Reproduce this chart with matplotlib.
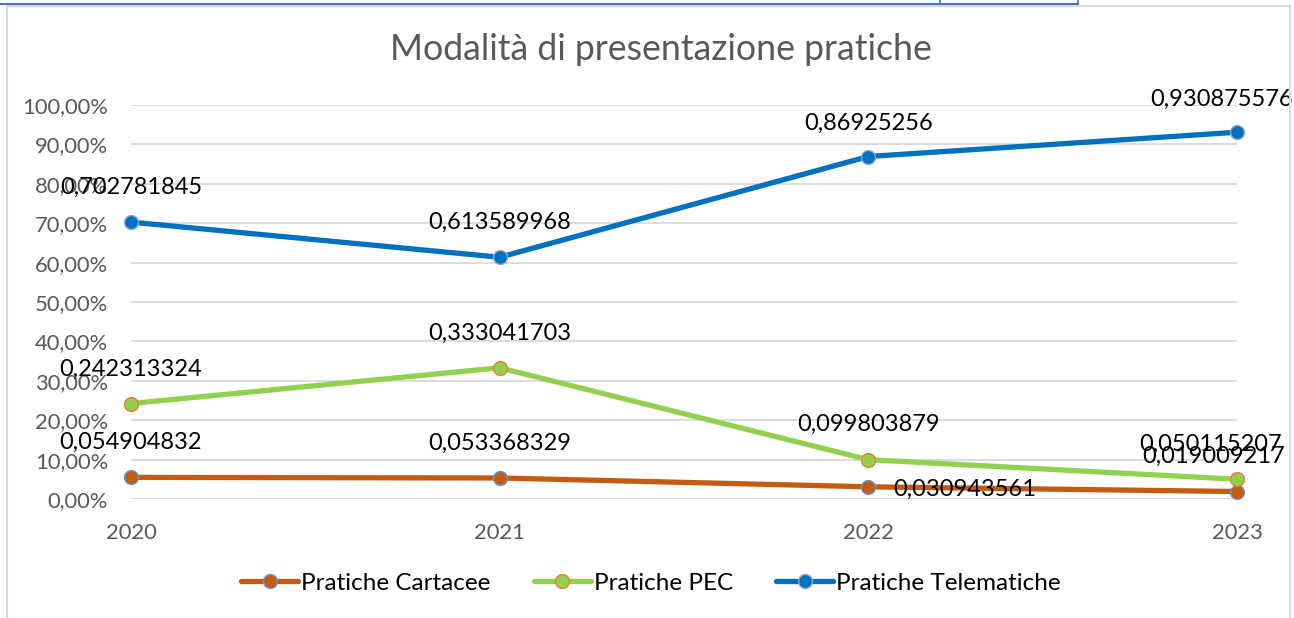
import matplotlib
matplotlib.use("Agg")
import matplotlib.pyplot as plt
from matplotlib.lines import Line2D
from matplotlib.patches import Rectangle
from matplotlib.ticker import FuncFormatter

years = ["2020", "2021", "2022", "2023"]
cartacee = [0.054904832, 0.053368329, 0.030943561, 0.019009217]
pec = [0.242313324, 0.333041703, 0.099803879, 0.050115207]
telematiche = [0.702781845, 0.613589968, 0.86925256, 0.930875576]
series_names = ["Pratiche Cartacee", "Pratiche PEC", "Pratiche Telematiche"]
title = "Modalità di presentazione pratiche"

plt.rcParams['font.family'] = ['Lato', 'DejaVu Sans']

W, H = 1294, 618
fig = plt.figure(figsize=(W / 100, H / 100), dpi=100)
fig.patch.set_facecolor('white')

# decorations: chart border and selection lines
fig.add_artist(Rectangle((7 / W, -0.05), (1290 - 7) / W, 1.05 - 6 / H,
                         transform=fig.transFigure, fill=False,
                         edgecolor='#D9D9D9', linewidth=1.5))
fig.add_artist(Line2D([0, 1078 / W], [1 - 4 / H, 1 - 4 / H], transform=fig.transFigure,
                      color='#4472C4', linewidth=1.5))
for xv in (940, 1078):
    fig.add_artist(Line2D([xv / W, xv / W], [1 - 4 / H, 1.0], transform=fig.transFigure,
                          color='#4472C4', linewidth=1.2))

ax = fig.add_axes([131 / W, 1 - 499 / H, (1237 - 131) / W, (499 - 105) / H])
ax.set_xlim(0, 3)
ax.set_ylim(0, 1.0)
x = list(range(len(years)))

styles = [
    (cartacee, '#C55A11', '#5B9BD5'),
    (pec, '#92D050', '#ED7D31'),
    (telematiche, '#0070C0', '#8FA9C9'),
]
handles = []
for (vals, col, edge), name in zip(styles, series_names):
    ln, = ax.plot(x, vals, color=col, linewidth=3.8, marker='o', markersize=10,
                  markerfacecolor=col, markeredgecolor=edge, markeredgewidth=1.0,
                  label=name, zorder=3, clip_on=False, solid_capstyle='round')
    handles.append(ln)

def fmt_label(v):
    return str(v).replace('.', ',')

# label offsets in pixels (dx, dy, ha)
offsets = {
    0: [(0, 35, 'center'), (0, 35, 'center'), (25, -3, 'left'), (-23, 35, 'center')],
    1: [(0, 34, 'center'), (0, 34, 'center'), (0, 35, 'center'), (-26, 35, 'center')],
    2: [(0, 35, 'center'), (0, 35, 'center'), (0, 33, 'center'), (-15, 33, 'center')],
}
for si, (vals, col, edge) in enumerate(styles):
    for i, v in enumerate(vals):
        dx, dy, ha = offsets[si][i]
        ax.annotate(fmt_label(v), (x[i], v), xytext=(dx, dy), textcoords='offset pixels',
                    ha=ha, va='center', fontsize=17, color='black', zorder=5,
                    annotation_clip=False)

ax.set_yticks([i / 10 for i in range(11)])
ax.yaxis.set_major_formatter(FuncFormatter(lambda v, p: f"{v * 100:.2f}%".replace('.', ',')))
ax.set_xticks(x)
ax.set_xticklabels(years)
ax.tick_params(axis='both', length=0, labelsize=15.8, labelcolor='#595959')
ax.tick_params(axis='y', pad=16.5)
ax.tick_params(axis='x', pad=17)
ax.grid(axis='y', color='#D9D9D9', linewidth=1.3)
ax.set_axisbelow(True)
for s in ax.spines.values():
    s.set_visible(False)

fig.text(661 / W, 1 - 50 / H, title, ha='center', va='center', fontsize=25.7, color='#595959')

fig.legend(handles=handles, loc='center', bbox_to_anchor=(651 / W, 1 - 583 / H), ncol=3,
           frameon=False, fontsize=17.5, handlelength=2.35, handletextpad=0.12,
           columnspacing=1.77)

fig.savefig("out.png", dpi=100, facecolor='white')
